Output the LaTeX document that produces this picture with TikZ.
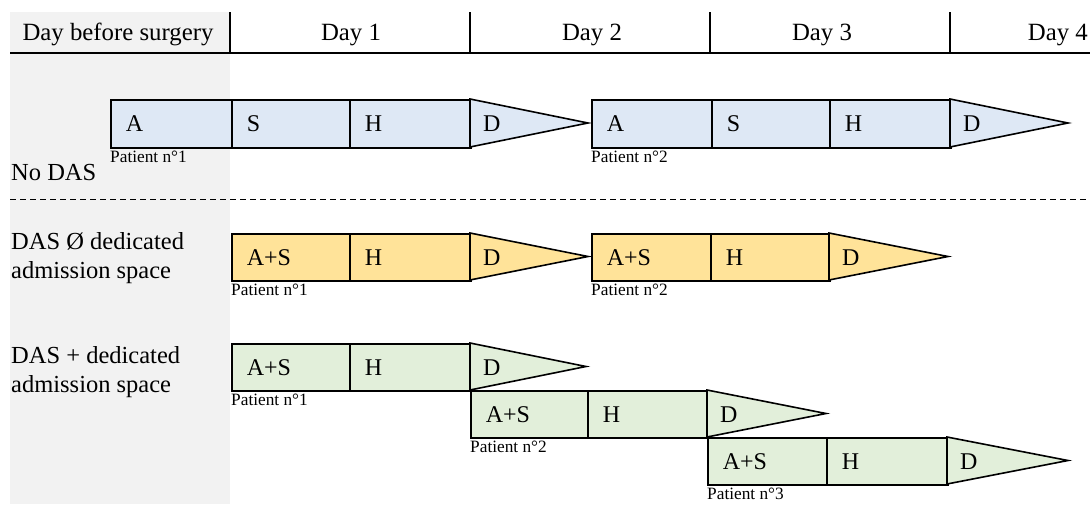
\documentclass[tikz,border=0pt]{standalone}
\usepackage{fontspec}
\setmainfont{Liberation Serif}
\definecolor{bgrey}{HTML}{F2F2F2}
\definecolor{cblue}{HTML}{DEE8F5}
\definecolor{cyell}{HTML}{FFE399}
\definecolor{cgreen}{HTML}{E2EFDA}
\tikzset{
  seg/.style={draw, line width=1.6pt, anchor=north west, inner xsep=15pt, inner ysep=0pt,
    align=left, font=\fontsize{24}{27}\selectfont},
  tri/.style={draw, line width=1.6pt, line join=miter},
  dlab/.style={anchor=west, inner sep=0pt, font=\fontsize{24}{27}\selectfont},
  pat/.style={anchor=north west, inner sep=0pt, font=\fontsize{17.3}{19}\selectfont},
  rowlab/.style={anchor=base west, inner sep=0pt, align=left, font=\fontsize{24.5}{28.5}\selectfont},
  head/.style={anchor=base, inner sep=0pt, font=\fontsize{24.8}{27}\selectfont},
  rule/.style={line width=1.4pt},
}
% box: name, x1, x2, ytop, ybot, label, colour
\newcommand\segbox[7]{%
  \node[seg, fill=#7, minimum width={(#3-#2)*1pt}, minimum height={(#5-#4)*1pt},
        text width={(#3-#2-30)*1pt}] (#1) at (#2,#4) {#6};}
% discharge triangle: name, x, ytop, ybot, tip x, colour
\newcommand\trail[6]{%
  \coordinate (#1-a) at (#2,#3);
  \coordinate (#1-b) at (#5,{(#3+#4)/2});
  \coordinate (#1-c) at (#2,#4);
  \draw[tri, fill=#6] (#1-a) -- (#1-b) -- (#1-c) -- cycle;
  \node[dlab] (#1) at ({#2+13},{(#3+#4)/2+1}) {D};}
\begin{document}
\begin{tikzpicture}[x=1pt,y=-1pt]
\useasboundingbox (0,0) rectangle (1090,504);
% grey column
\fill[bgrey] (10,12) rectangle (230,504);
% header
\coordinate (h0) at (10,53);
\coordinate (h1) at (1090,53);
\draw[rule] (h0) -- (h1);
\foreach \x in {230,470,710,950}{
  \coordinate (v\x t) at (\x,12);
  \coordinate (v\x b) at (\x,53);
  \draw[rule] (v\x t) -- (v\x b);
}
\node[head] (hd0) at (118,40) {Day before surgery};
\node[head] (hd1) at (351,40) {Day 1};
\node[head] (hd2) at (592,40) {Day 2};
\node[head] (hd3) at (822,40) {Day 3};
\node[head, anchor=base east] (hd4) at (1088,40) {Day 4};
% separator
\coordinate (s0) at (10,199);
\coordinate (s1) at (1090,199);
\draw[line width=1pt, dash pattern=on 6pt off 4pt] (s0) -- (s1);
% row labels
\node[rowlab] (r1) at (11,180) {No DAS};
\node[rowlab] (r2) at (11,278) {DAS Ø dedicated\\admission space};
\node[rowlab] (r3) at (11,392) {DAS + dedicated\\admission space};

% Row 1: No DAS
\segbox{a1A}{110}{231}{99}{147}{A}{cblue}
\segbox{a1S}{231}{349}{99}{147}{S}{cblue}
\segbox{a1H}{349}{470}{99}{147}{H}{cblue}
\trail{a1D}{470}{99}{147}{588}{cblue}
\node[pat] (a1p) at (110,151) {Patient n°1};
\segbox{a2A}{591}{711}{99}{147}{A}{cblue}
\segbox{a2S}{711}{829}{99}{147}{S}{cblue}
\segbox{a2H}{829}{950}{99}{147}{H}{cblue}
\trail{a2D}{950}{99}{147}{1068}{cblue}
\node[pat] (a2p) at (591,151) {Patient n°2};

% Row 2: DAS without dedicated space
\segbox{b1A}{231}{349}{233}{280}{A+S}{cyell}
\segbox{b1H}{349}{470}{233}{280}{H}{cyell}
\trail{b1D}{470}{233}{280}{588}{cyell}
\node[pat] (b1p) at (231,284) {Patient n°1};
\segbox{b2A}{591}{710}{233}{280}{A+S}{cyell}
\segbox{b2H}{710}{829}{233}{280}{H}{cyell}
\trail{b2D}{829}{233}{280}{948}{cyell}
\node[pat] (b2p) at (591,284) {Patient n°2};

% Row 3: DAS with dedicated space
\segbox{c1A}{231}{349}{343}{390}{A+S}{cgreen}
\segbox{c1H}{349}{470}{343}{390}{H}{cgreen}
\trail{c1D}{470}{343}{390}{586}{cgreen}
\node[pat] (c1p) at (231,394) {Patient n°1};
\segbox{c2A}{470}{587}{390}{437}{A+S}{cgreen}
\segbox{c2H}{587}{707}{390}{437}{H}{cgreen}
\trail{c2D}{707}{390}{437}{826}{cgreen}
\node[pat] (c2p) at (470,441) {Patient n°2};
\segbox{c3A}{707}{826}{437}{484}{A+S}{cgreen}
\segbox{c3H}{826}{947}{437}{484}{H}{cgreen}
\trail{c3D}{947}{437}{484}{1068}{cgreen}
\node[pat] (c3p) at (707,488) {Patient n°3};
\end{tikzpicture}
\end{document}
